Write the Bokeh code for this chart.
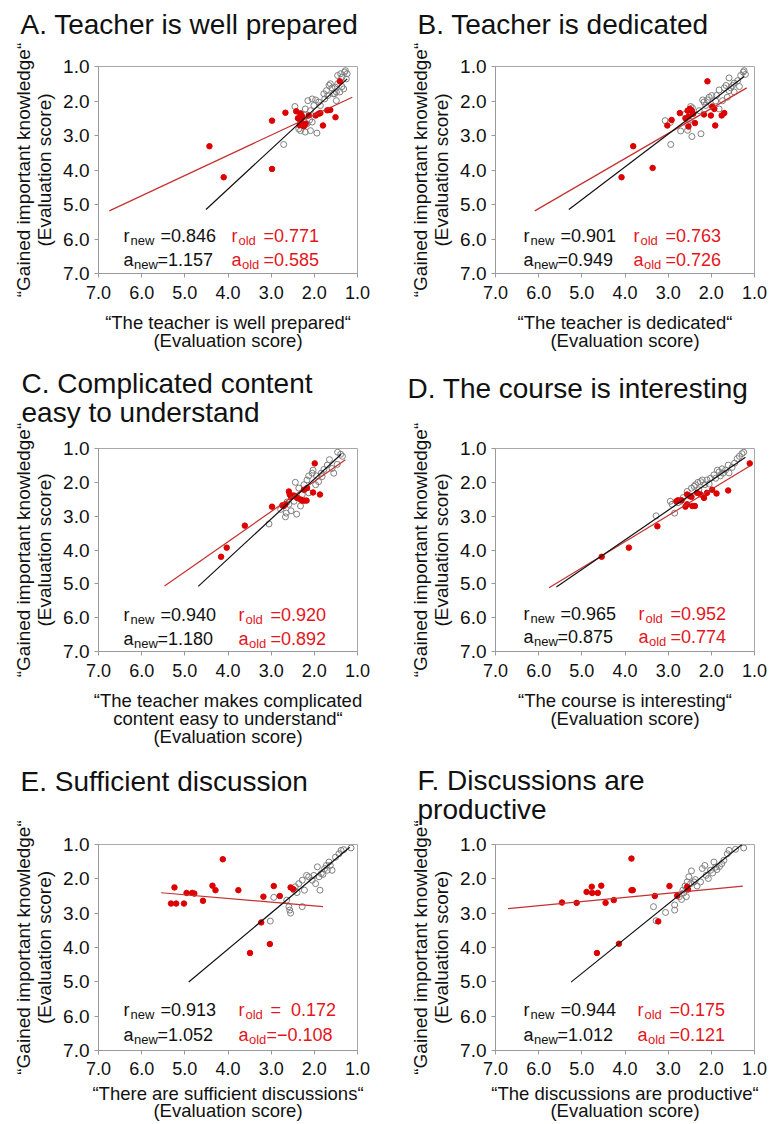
import math
from bokeh.plotting import figure
from bokeh.models import Range1d, FixedTicker, PrintfTickFormatter, Label, Title
from bokeh.layouts import column, row
from bokeh.embed import file_html
from bokeh.resources import INLINE

FONT = "Liberation Sans"

# ---------------- data ----------------
A_new_x = [2.45,2.21,2.15,2.05,1.97,1.90,2.01,2.09,2.21,2.11,2.05,2.17,2.21,2.09,1.94,2.32,2.71,1.78,1.72,1.66,
           1.63,1.59,1.51,1.53,1.49,1.46,1.39,1.36,1.30,1.28,1.24,1.26,1.46,1.36,1.32,1.41,1.49,1.56,1.69,1.76,
           1.86,2.32,2.36]
A_new_y = [2.16,2.23,1.99,1.94,1.97,2.03,2.13,2.28,2.42,2.55,2.61,2.66,2.90,2.86,2.93,2.86,3.26,1.79,1.70,1.55,
           1.50,1.62,1.60,1.79,1.74,1.26,1.21,1.31,1.16,1.12,1.21,1.36,1.50,1.58,1.65,1.74,1.99,1.79,1.84,1.94,
           2.13,2.37,2.81]
A_old_x = [4.43,4.10,2.98,2.98,2.67,2.42,2.32,2.33,2.30,2.34,2.27,2.24,2.20,2.38,2.28,2.13,1.97,1.90,1.86,1.80,
           1.70,1.63,1.51,1.41]
A_old_y = [3.31,4.21,3.97,2.57,2.34,2.30,2.36,2.55,2.62,2.70,2.68,2.73,2.66,2.50,2.45,2.42,2.42,2.37,2.35,2.71,
           2.27,2.26,2.47,1.43]

B_new_x = [3.07,2.71,2.94,2.55,2.45,2.24,2.55,2.51,2.48,2.44,2.20,2.17,2.09,2.13,1.99,1.90,1.82,1.74,1.82,1.70,
           1.66,1.59,1.55,1.51,1.47,1.59,1.39,1.35,1.26,1.24,1.21,1.32,1.47,1.63,1.88,2.05,2.28,2.95,2.60]
B_new_y = [2.57,2.87,3.26,2.85,3.03,2.95,2.66,2.56,2.16,2.20,1.97,2.03,1.97,2.13,1.84,2.00,2.23,1.99,1.68,1.62,
           1.55,1.70,1.62,1.55,1.48,1.33,1.41,1.58,1.16,1.12,1.23,1.26,1.74,1.89,1.84,1.89,2.28,2.62,2.38]
B_old_x = [4.08,3.81,3.36,3.02,2.92,2.73,2.55,2.50,2.45,2.42,2.53,2.53,2.38,2.48,2.17,2.09,2.01,1.93,1.91,1.76,
           1.70,1.98,2.60]
B_old_y = [4.21,3.31,3.94,2.71,2.55,2.35,2.28,2.23,2.29,2.37,2.45,2.74,2.64,2.25,2.39,1.43,2.42,2.23,2.71,2.42,
           2.35,2.16,2.50]

C_new_x = [3.05,2.78,2.67,2.65,2.54,2.41,2.59,2.47,2.44,2.36,2.28,2.24,2.17,2.13,2.05,2.03,1.95,1.90,1.84,1.78,
           1.70,1.65,1.59,1.55,1.47,1.46,1.39,1.35,1.82,1.97,2.13,2.32,2.63]
C_new_y = [3.23,2.80,3.02,2.91,2.84,2.94,2.65,2.56,2.00,2.17,2.36,2.07,1.93,1.81,1.73,1.64,1.81,1.98,1.73,1.62,
           1.49,1.33,1.59,1.73,1.47,1.11,1.17,1.23,1.83,2.07,2.31,2.70,2.58]
C_old_x = [4.16,4.03,3.61,2.98,2.74,2.71,2.67,2.59,2.57,2.54,2.49,2.40,2.32,2.28,2.23,2.18,2.24,2.17,2.03,1.99,
           1.87,2.45]
C_old_y = [4.20,3.93,3.28,2.72,2.68,2.70,2.65,2.27,2.36,2.43,2.39,2.46,2.51,2.54,2.54,2.54,2.22,2.17,2.30,1.44,
           2.36,2.40]

D_new_x = [3.28,2.95,2.91,2.85,2.77,2.71,2.46,2.40,2.37,2.31,2.25,2.21,2.15,2.10,2.02,1.94,1.86,1.82,1.79,1.73,
           1.67,1.61,1.52,1.46,1.40,1.35,1.29,1.25,1.59,1.90,2.29,2.56,2.65,2.05,1.75]
D_new_y = [2.99,2.56,2.65,2.91,2.60,2.56,2.17,2.12,2.07,2.00,1.98,1.93,2.07,1.93,1.88,1.78,1.64,1.69,1.81,1.73,
           1.64,1.49,1.56,1.43,1.30,1.23,1.15,1.11,1.72,1.88,2.22,2.27,2.45,2.05,1.60]
D_old_x = [4.54,3.91,3.25,2.81,2.77,2.69,2.60,2.56,2.56,2.50,2.46,2.44,2.38,2.33,2.25,2.17,2.10,1.98,1.88,1.61,
           1.11]
D_old_y = [4.20,3.93,3.30,2.56,2.53,2.53,2.72,2.65,2.36,2.41,2.43,2.70,2.70,2.31,2.36,2.46,2.31,2.22,2.33,2.24,
           1.44]

E_new_x = [2.94,3.02,2.64,2.59,2.57,2.55,2.47,2.44,2.36,2.28,2.28,2.23,2.18,2.13,2.05,2.01,1.93,1.89,1.84,1.87,
           1.76,1.72,1.66,1.63,1.59,1.51,1.43,1.38,1.32,1.15,1.80,1.97,2.40,1.70]
E_new_y = [2.54,3.23,2.62,2.81,2.91,3.00,2.33,2.23,2.14,2.04,2.81,2.33,1.90,1.94,2.04,1.90,1.65,1.94,1.85,2.33,
           1.70,1.61,1.51,1.61,1.75,1.37,1.27,1.17,1.15,1.10,1.87,2.14,2.40,1.75]
E_old_x = [5.32,5.20,5.24,5.02,4.96,4.83,4.78,4.58,4.36,4.29,4.12,3.76,3.18,3.23,2.94,3.03,2.80,3.49,2.55,2.49]
E_old_y = [2.72,2.72,2.25,2.72,2.41,2.41,2.43,2.64,2.20,2.33,1.43,2.33,2.52,3.27,2.21,3.90,2.50,4.16,2.25,2.30]

F_new_x = [3.34,3.28,3.06,2.85,2.85,2.74,2.69,2.66,2.64,2.61,2.58,2.56,2.52,2.48,2.46,2.40,2.37,2.33,2.25,2.21,
           2.15,2.12,2.07,2.02,1.97,1.94,1.90,1.87,1.81,1.76,1.71,1.63,1.59,1.44,1.25]
F_new_y = [2.81,3.22,2.98,2.76,2.91,2.52,2.60,2.33,2.41,2.21,2.52,2.09,1.94,2.14,1.77,2.09,2.02,2.21,2.09,1.70,
           1.61,1.90,1.99,1.75,1.83,1.51,1.66,1.73,1.64,1.56,1.46,1.27,1.17,1.14,1.10]
F_old_x = [5.46,5.12,4.89,4.77,4.76,4.63,4.55,4.45,4.26,4.65,4.14,3.85,3.85,3.82,3.31,3.23,2.97,2.79,2.56,2.54]
F_old_y = [2.69,2.70,2.38,2.23,2.41,2.41,2.20,2.70,2.62,4.16,3.89,1.41,2.33,2.33,2.50,3.24,2.21,2.49,2.23,2.31]

# regression lines: slope a, intercept b, x extent
fit_slope_new = [1.157, 0.949, 1.180, 0.875, 1.052, 1.012]
fit_icpt_new  = [-0.075, 0.113, -0.458, 0.200, -0.161, -0.305]
fit_xext_new  = [(4.51, 1.24), (5.30, 1.24), (4.69, 1.38), (5.59, 1.21), (4.91, 1.18), (5.25, 1.29)]
fit_slope_old = [0.585, 0.726, 0.892, 0.774, -0.108, 0.121]
fit_icpt_old  = [1.235, 0.763, 0.188, 0.660, 3.004, 2.056]
fit_xext_old  = [(6.75, 1.12), (6.09, 1.18), (5.47, 1.28), (5.76, 1.09), (5.55, 1.80), (6.71, 1.27)]

r_new = ["0.846", "0.901", "0.940", "0.965", "0.913", "0.944"]
a_new = ["1.157", "0.949", "1.180", "0.875", "1.052", "1.012"]
r_old = ["0.771", "0.763", "0.920", "0.952", "\u00a0\u00a00.172", "0.175"]
a_old = ["0.585", "0.726", "0.892", "0.774", "\u22120.108", "0.121"]

titles = [["A. Teacher is well prepared"],
          ["B. Teacher is dedicated"],
          ["C. Complicated content", "easy to understand"],
          ["D. The course is interesting"],
          ["E. Sufficient discussion"],
          ["F. Discussions are", "productive"]]
xlabels = [["\u201cThe teacher is well prepared\u201c", "(Evaluation score)"],
           ["\u201cThe teacher is dedicated\u201c", "(Evaluation score)"],
           ["\u201cThe teacher makes complicated", "content easy to understand\u201c", "(Evaluation score)"],
           ["\u201cThe course is interesting\u201c", "(Evaluation score)"],
           ["\u201cThere are sufficient discussions\u201c", "(Evaluation score)"],
           ["\u201cThe discussions are productive\u201c", "(Evaluation score)"]]
ylabel = ["\u201cGained important knowledge\u201c", "(Evaluation score)"]
ticks = [1, 2, 3, 4, 5, 6, 7]

news = [(A_new_x, A_new_y), (B_new_x, B_new_y), (C_new_x, C_new_y),
        (D_new_x, D_new_y), (E_new_x, E_new_y), (F_new_x, F_new_y)]
olds = [(A_old_x, A_old_y), (B_old_x, B_old_y), (C_old_x, C_old_y),
        (D_old_x, D_old_y), (E_old_x, E_old_y), (F_old_x, F_old_y)]

# ---------------- layout (pixels) ----------------
FW, FH = 259, 207
col_w = [392, 380]
col_left = [98, 103]
row_h = [365, 385, 374]
row_top = [66, 83, 94]
title_off = [-78, -78, -77, -88, -78, -78]
title_gap = [24, 24, 17, 42, 45, 16]      # spacer between frame and title
xtick_standoff = [8, 8, 8, 8, 7, 7]
xlab_standoff = [10, 10, 10, 10, 5, 5]
xlab_lh = [0.88, 0.88, 0.88, 0.88, 0.85, 0.85]
blk_x = [25, 28, 25, 28, 25, 28]
red_x = [133, 138, 140, 143, 140, 142]
txt_y = [(38, 14), (38, 14), (37, 13), (38, 15), (41, 16), (41, 16)]

RED_DOT = "#dd0000"
RED_LINE = "#c53030"
RED_TXT = "#e3161c"


def lab(p, x, y, text, size, color="#111111"):
    p.add_layout(Label(x=x, y=y, x_units="screen", y_units="screen", text=text,
                       text_font=FONT, text_font_size=f"{size}px", text_color=color,
                       text_align="left", text_baseline="alphabetic"))


def make_panel(i):
    r, c = divmod(i, 2)
    w, h = col_w[c], row_h[r]
    bl, bt = col_left[c], row_top[r]
    p = figure(width=w, height=h, x_range=Range1d(7, 1), y_range=Range1d(7, 1),
               output_backend="svg", toolbar_location=None,
               min_border_left=bl, min_border_right=w - bl - FW,
               min_border_top=bt, min_border_bottom=h - bt - FH)
    p.grid.visible = False
    p.outline_line_color = "#a8a8a8"
    p.background_fill_color = "white"
    p.border_fill_color = "white"

    # spacer (nearest the frame) then the panel title
    p.add_layout(Title(text=" ", text_font_size="1px", standoff=title_gap[i]), "above")
    p.add_layout(Title(text="\n".join(titles[i]), text_font=FONT, text_font_size="28px",
                       text_font_style="normal", text_color="#111111", text_line_height=0.96,
                       align="left", offset=title_off[i], standoff=0), "above")

    for ax in (p.xaxis[0], p.yaxis[0]):
        ax.ticker = FixedTicker(ticks=ticks)
        ax.formatter = PrintfTickFormatter(format="%.1f")
        ax.axis_line_color = "#9a9a9a"
        ax.major_tick_line_color = "#9a9a9a"
        ax.major_tick_out = 4
        ax.major_tick_in = 0
        ax.minor_tick_line_color = None
        ax.major_label_text_font = FONT
        ax.major_label_text_color = "#111111"
        ax.axis_label_text_font = FONT
        ax.axis_label_text_font_style = "normal"
        ax.axis_label_text_color = "#111111"
    p.xaxis.major_label_text_font_size = "18px"
    p.yaxis.major_label_text_font_size = "19px"
    p.xaxis.major_label_standoff = xtick_standoff[i]
    p.yaxis.major_label_standoff = 5
    p.xaxis.axis_label = "\n".join(xlabels[i])
    p.xaxis.axis_label_text_font_size = "18.5px"
    p.xaxis.axis_label_text_line_height = xlab_lh[i]
    p.xaxis.axis_label_standoff = xlab_standoff[i]
    p.yaxis.axis_label = "\n".join(ylabel)
    p.yaxis.axis_label_text_font_size = "19px"
    p.yaxis.axis_label_text_line_height = 1.0
    p.yaxis.axis_label_standoff = 5

    nx, ny = news[i]
    ox, oy = olds[i]
    p.scatter(nx, ny, marker="circle", size=6, fill_color=None, line_color="#808080", line_width=1)
    p.scatter(ox, oy, marker="circle", size=5.5, fill_color=RED_DOT, line_color=RED_DOT)

    x0, x1 = fit_xext_old[i]
    p.line([x0, x1], [fit_slope_old[i] * x0 + fit_icpt_old[i], fit_slope_old[i] * x1 + fit_icpt_old[i]],
           line_color=RED_LINE, line_width=1.2)
    x0, x1 = fit_xext_new[i]
    p.line([x0, x1], [fit_slope_new[i] * x0 + fit_icpt_new[i], fit_slope_new[i] * x1 + fit_icpt_new[i]],
           line_color="#111111", line_width=1.2)

    # stats text inside the frame
    bx, rx = blk_x[i], red_x[i]
    ry, ay = txt_y[i]
    lab(p, bx, ry, "r", 18)
    lab(p, bx + 7, ry - 5, "new", 13)
    lab(p, bx + 37, ry, "=" + r_new[i], 18)
    lab(p, bx, ay, "a", 18)
    lab(p, bx + 10.5, ay - 5, "new", 13)
    lab(p, bx + 34, ay, "=" + a_new[i], 18)

    lab(p, rx, ry, "r", 18, color=RED_TXT)
    lab(p, rx + 7, ry - 5, "old", 13, color=RED_TXT)
    lab(p, rx + 32, ry, "=" + r_old[i], 18, color=RED_TXT)
    lab(p, rx, ay, "a", 18, color=RED_TXT)
    lab(p, rx + 10.5, ay - 5, "old", 13, color=RED_TXT)
    lab(p, rx + (28 if i == 4 else 32), ay, "=" + a_old[i], 18, color=RED_TXT)
    return p


panels = [make_panel(i) for i in range(6)]
layout = column(row(panels[0], panels[1]), row(panels[2], panels[3]), row(panels[4], panels[5]))

open("out.html", "w").write(file_html(layout, INLINE))
